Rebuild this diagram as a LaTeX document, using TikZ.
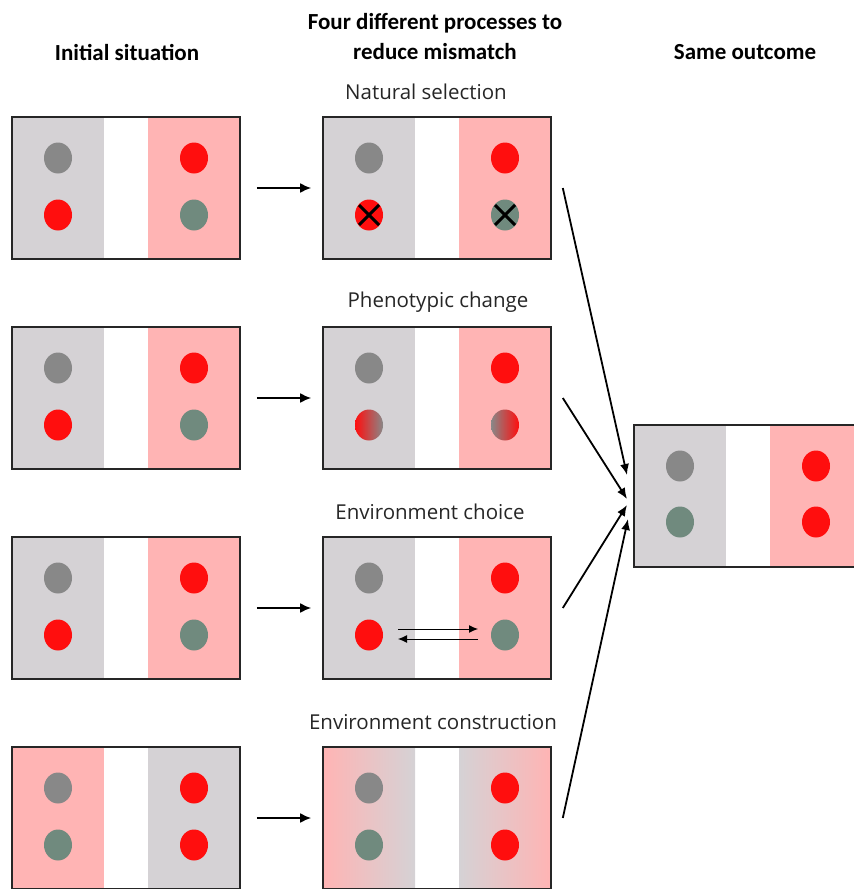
\documentclass[tikz,border=0pt]{standalone}
\usepackage{fontspec}
\setmainfont{Open Sans}
\newfontfamily\hdrfont{Carlito}
\usetikzlibrary{arrows.meta,shapes.geometric,calc}
\definecolor{bggrey}{RGB}{213,210,213}
\definecolor{bgpink}{RGB}{255,180,180}
\definecolor{dgrey}{RGB}{136,136,136}
\definecolor{dgreen}{RGB}{112,138,126}
\definecolor{dred}{RGB}{255,14,14}
\begin{document}
\begin{tikzpicture}[x=1pt,y=-1pt,
  panelbox/.style={draw=black!85, line width=1.6pt, minimum width=228pt, minimum height=142pt, inner sep=0pt},
  gfill/.style={fill=bggrey},
  pfill/.style={fill=bgpink},
  pgshade/.style={left color=bgpink, right color=bggrey},
  gpshade/.style={left color=bggrey, right color=bgpink},
  blob/.style={ellipse, minimum width=28pt, minimum height=31pt, inner sep=0pt, draw=none},
  gdot/.style={blob, fill=dgrey},
  ndot/.style={blob, fill=dgreen},
  rdot/.style={blob, fill=dred},
  rgdot/.style={blob, left color=dred, right color=dgrey},
  grdot/.style={blob, left color=dgrey, right color=dred},
  harrow/.style={-{Latex[length=11pt,width=10pt]}, line width=1.9pt},
  carrow/.style={-{Latex[length=11pt,width=9pt]}, line width=1.8pt},
  tarrow/.style={-{Latex[length=9pt,width=8pt]}, line width=1pt},
  xmark/.style={line width=3pt, black},
  head/.style={font=\hdrfont\bfseries\fontsize{23}{30}\selectfont, align=center},
  lab/.style={font=\fontsize{20.5}{24}\selectfont, text=black!85}
]
\useasboundingbox (0,0) rectangle (854,889);
\begin{scope}
\clip (0,0) rectangle (854,889);
% panel macro: name, x, y, left style, right style
\newcommand\mypanel[5]{%
  \path[#4] (#2,#3) rectangle ++(92,142);
  \path[#5] (#2+136,#3) rectangle ++(92,142);
  \node[panelbox] (#1) at (#2+114,#3+71) {};
}
% initial situation
\mypanel{i1}{12}{117}{gfill}{pfill}
\mypanel{i2}{12}{327}{gfill}{pfill}
\mypanel{i3}{12}{537}{gfill}{pfill}
\mypanel{i4}{12}{747}{pfill}{gfill}
% processes
\mypanel{m1}{323}{117}{gfill}{pfill}
\mypanel{m2}{323}{327}{gfill}{pfill}
\mypanel{m3}{323}{537}{gfill}{pfill}
\mypanel{m4}{323}{747}{pgshade}{gpshade}
% outcome
\mypanel{o}{634}{425}{gfill}{pfill}

% dots initial
\node[gdot] (i1a) at (58,158) {}; \node[rdot] (i1b) at (58,215) {};
\node[rdot] (i1c) at (194,158) {}; \node[ndot] (i1d) at (194,215) {};
\node[gdot] (i2a) at (58,368) {}; \node[rdot] (i2b) at (58,425) {};
\node[rdot] (i2c) at (194,368) {}; \node[ndot] (i2d) at (194,425) {};
\node[gdot] (i3a) at (58,578) {}; \node[rdot] (i3b) at (58,635) {};
\node[rdot] (i3c) at (194,578) {}; \node[ndot] (i3d) at (194,635) {};
\node[gdot] (i4a) at (58,788) {}; \node[ndot] (i4b) at (58,845) {};
\node[rdot] (i4c) at (194,788) {}; \node[rdot] (i4d) at (194,845) {};
% dots processes
\node[gdot] (m1a) at (369,158) {}; \node[rdot] (m1b) at (369,215) {};
\node[rdot] (m1c) at (505,158) {}; \node[ndot] (m1d) at (505,215) {};
\node[gdot] (m2a) at (369,368) {}; \node[rgdot] (m2b) at (369,425) {};
\node[rdot] (m2c) at (505,368) {}; \node[grdot] (m2d) at (505,425) {};
\node[gdot] (m3a) at (369,578) {}; \node[rdot] (m3b) at (369,635) {};
\node[rdot] (m3c) at (505,578) {}; \node[ndot] (m3d) at (505,635) {};
\node[gdot] (m4a) at (369,788) {}; \node[ndot] (m4b) at (369,845) {};
\node[rdot] (m4c) at (505,788) {}; \node[rdot] (m4d) at (505,845) {};
% dots outcome
\node[gdot] (oa) at (680,466) {}; \node[ndot] (ob) at (680,522) {};
\node[rdot] (oc) at (816,466) {}; \node[rdot] (od) at (816,522) {};

% crosses
\draw[xmark] ($(m1b)+(-10,-10)$) -- ($(m1b)+(10,10)$);
\draw[xmark] ($(m1b)+(-10,10)$) -- ($(m1b)+(10,-10)$);
\draw[xmark] ($(m1d)+(-10,-10)$) -- ($(m1d)+(10,10)$);
\draw[xmark] ($(m1d)+(-10,10)$) -- ($(m1d)+(10,-10)$);

% environment choice arrows
\draw[tarrow] ($(m3b)+(29,-6)$) -- ($(m3d)+(-27,-6)$);
\draw[tarrow] ($(m3d)+(-27,4)$) -- ($(m3b)+(29,4)$);

% horizontal arrows
\foreach \k in {1,2,3,4}
  \draw[harrow, shorten <=16pt, shorten >=11pt] (i\k) -- (m\k);

% converging arrows
\coordinate (t1) at (627,475);
\coordinate (t2) at (627,499);
\coordinate (t3) at (627,505);
\coordinate (t4) at (628,519);
\foreach \k in {1,2,3,4}
  \draw[carrow] ([xshift=11pt]m\k.east) -- (t\k);
\end{scope}

% headings
\node[head] (h1) at (127,52) {Initial situation};
\node[head] (h2) at (435,37) {Four different processes to\\reduce mismatch};
\node[head] (h3) at (745,52) {Same outcome};
% process labels
\node[lab] (l1) at (426,92) {Natural selection};
\node[lab] (l2) at (438,302) {Phenotypic change};
\node[lab] (l3) at (430,512) {Environment choice};
\node[lab] (l4) at (433,722) {Environment construction};
\end{tikzpicture}
\end{document}
